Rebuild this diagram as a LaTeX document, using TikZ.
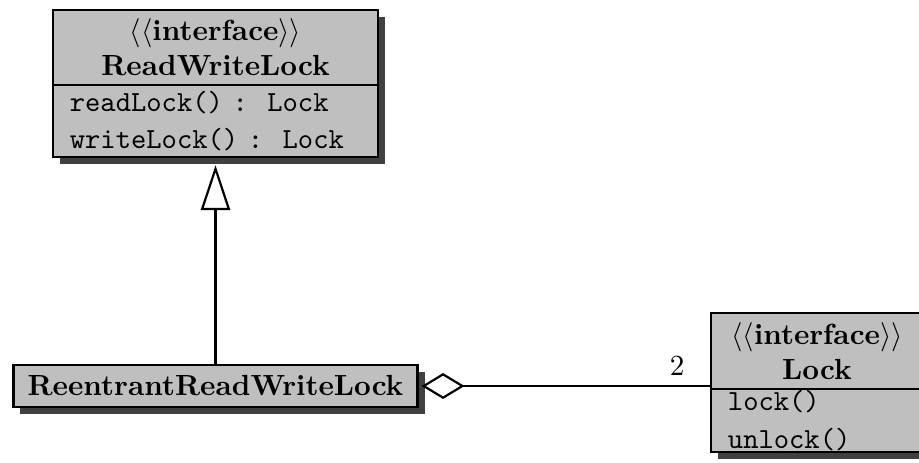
\documentclass[tikz,border=0pt]{standalone}
\usetikzlibrary{arrows.meta,shadows}
\definecolor{classgray}{gray}{0.75}
\definecolor{shadowgray}{gray}{0.25}

\begin{document}
\begin{tikzpicture}[x = 0.343pt, y = -0.343pt, line width = 0.75pt,
	classe/.style = {draw, line width=0.8pt, fill=classgray, inner sep=0pt,
		drop shadow={shadow xshift=2.4pt, shadow yshift=-2.4pt, fill=shadowgray, opacity=1}},
	titre/.style = {classe, align=center},
	methodes/.style = {classe, align=left, font=\ttfamily, inner xsep=5.8pt},]
	\useasboundingbox (0,0) rectangle (919,462);

	\node[titre, minimum width=111.5pt, minimum height=25.7pt] (RWL) at (215.5,47.5) {$\langle\langle$\textbf{interface}$\rangle\rangle$\\\textbf{ReadWriteLock}};
	\node[methodes, minimum height=24.7pt, text width=99.9pt] (RWLm) at (215.5,121) {readLock()\ :\ \ Lock\\[0.9pt]writeLock()\ :\ \ Lock};
	\node[classe, minimum width=138.6pt, minimum height=14.4pt] (RRWL) at (215.5,386) {\textbf{ReentrantReadWriteLock}};
	\node[titre, minimum width=72.7pt, minimum height=26.1pt] (L) at (817,351) {$\langle\langle$\textbf{interface}$\rangle\rangle$\\\textbf{Lock}};
	\node[methodes, minimum height=21.6pt, text width=61.1pt] (Lm) at (817,420.5) {lock()\\[0.9pt]unlock()};

	\draw[-{Triangle[fill=white, length=15.4pt, width=10pt]}, shorten >=2.4pt] (RRWL) -- (RWLm);
	\draw[{Diamond[fill=white, length=14.7pt, width=8.9pt]}-, shorten <=1pt] (RRWL.east) -- node[pos=1, above left, xshift=-5pt] {2} (RRWL.east -| L.south west);
\end{tikzpicture}
\end{document}
